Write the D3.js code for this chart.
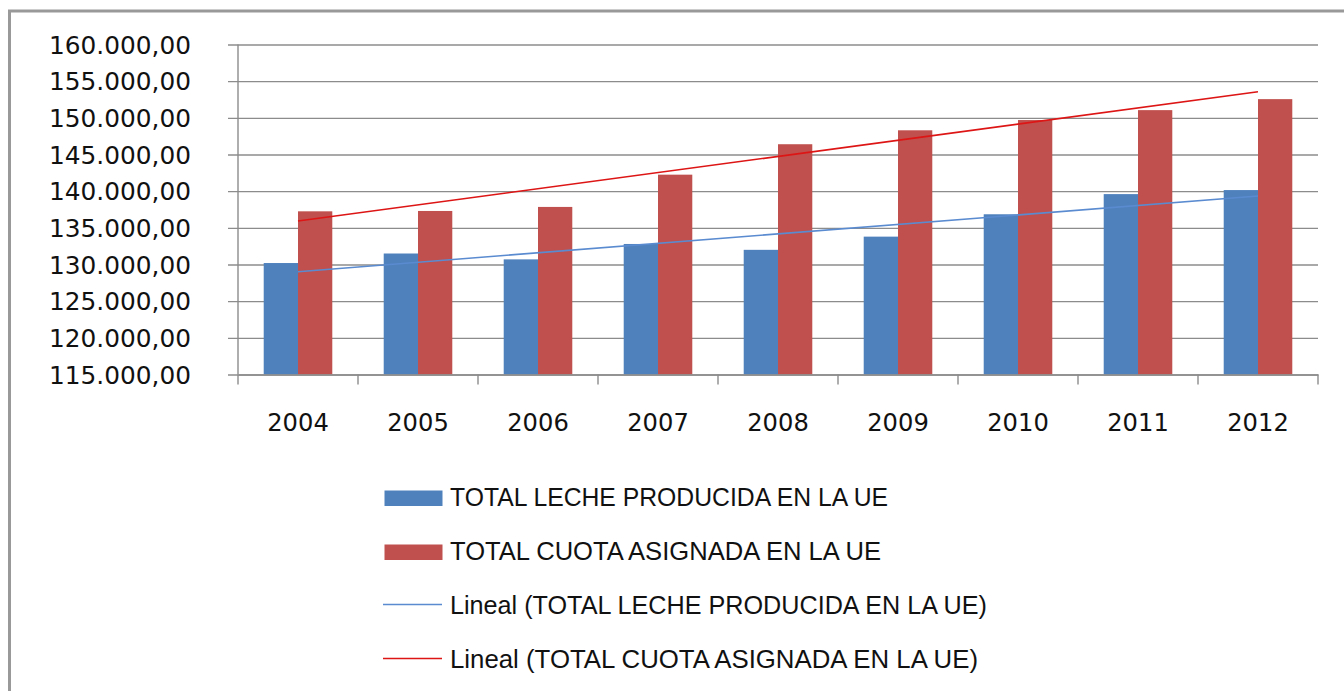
<!DOCTYPE html>
<html>
<head>
<meta charset="utf-8">
<script src="https://cdn.jsdelivr.net/npm/d3@7"></script>
<style>
    body { margin: 0; background: #fff; }
    svg { display: block; }
</style>
</head>
<body>
<div id="chartContainer"></div>
<script>
const years = ['2004', '2005', '2006', '2007', '2008', '2009', '2010', '2011', '2012'];
const lecheProducida = [130200, 131500, 130700, 132800, 132000, 133800, 136850, 139600, 140150];
const cuotaAsignada = [137250, 137300, 137850, 142250, 146400, 148300, 149700, 151050, 152550];
const seriesNames = ['TOTAL LECHE PRODUCIDA EN LA UE', 'TOTAL CUOTA ASIGNADA EN LA UE'];
const yTicks = [115000, 120000, 125000, 130000, 135000, 140000, 145000, 150000, 155000, 160000];

const width = 1344;
const height = 691;
const plot = { 'left': 238, 'right': 1318, 'top': 44.5, 'bottom': 374.5 };

const barColors = ['#4f81bd', '#c0504d'];
const trendColors = ['#5a8bd0', '#dd1515'];

const locale = d3.formatLocale({ decimal: ',', thousands: '.', grouping: [3], currency: ['', '€'] });
const fmt = locale.format(',.2f');

const svg = d3.select('#chartContainer')
    .append('svg')
    .attr('width', width)
    .attr('height', height);

// outer chart frame (runs off the right and bottom edge)
svg.append('rect')
    .attr('x', 9.5)
    .attr('y', 11)
    .attr('width', 1400)
    .attr('height', 800)
    .attr('fill', 'none')
    .attr('stroke', '#999')
    .attr('stroke-width', 3);

const y = d3.scaleLinear()
    .domain([115000, 160000])
    .range([plot.bottom, plot.top]);

const x = d3.scaleBand()
    .domain(years)
    .range([plot.left, plot.right])
    .paddingInner(0)
    .paddingOuter(0);

const xInner = d3.scaleBand()
    .domain([0, 1])
    .range([0, x.bandwidth()])
    .paddingInner(0)
    .paddingOuter(0.75);

// y axis with gridlines
const gYAxis = svg.append('g')
    .attr('transform', `translate(${plot.left - 10}, 0)`);

gYAxis.call(d3.axisLeft(y)
    .tickValues(yTicks)
    .tickFormat(fmt)
    .tickSize(-(plot.right - plot.left + 10))
    .tickPadding(37));

gYAxis.select('.domain').remove();
gYAxis.selectAll('line')
    .attr('stroke', '#8c8c8c')
    .attr('stroke-width', 1.4);
gYAxis.selectAll('text')
    .attr('dy', '0.35em')
    .style('font-family', '"DejaVu Sans", sans-serif')
    .style('font-size', '24.8px')
    .attr('fill', '#111');

// vertical axis line
svg.append('line')
    .attr('x1', plot.left)
    .attr('x2', plot.left)
    .attr('y1', plot.top)
    .attr('y2', plot.bottom)
    .attr('stroke', '#8c8c8c')
    .attr('stroke-width', 1.4);

// bars
const groups = svg.selectAll('.year')
    .data(years)
    .enter()
    .append('g')
    .attr('class', 'year')
    .attr('transform', d => `translate(${x(d)}, 0)`);

groups.selectAll('rect')
    .data((d, i) => [lecheProducida[i], cuotaAsignada[i]])
    .enter()
    .append('rect')
    .attr('x', (d, j) => xInner(j))
    .attr('width', xInner.bandwidth())
    .attr('y', d => y(d))
    .attr('height', d => plot.bottom - y(d))
    .attr('fill', (d, j) => barColors[j]);

// x axis
const gXAxis = svg.append('g')
    .attr('transform', `translate(0, ${plot.bottom})`);

gXAxis.call(d3.axisBottom(x).tickSize(0).tickPadding(39.5));
gXAxis.select('.domain')
    .attr('stroke', '#8c8c8c')
    .attr('stroke-width', 1.4);
gXAxis.selectAll('text')
    .style('font-family', '"DejaVu Sans", sans-serif')
    .style('font-size', '24.2px')
    .attr('fill', '#111');

const boundaries = years.map(d => x(d)).concat([plot.right]);
gXAxis.selectAll('.bound')
    .data(boundaries)
    .enter()
    .append('line')
    .attr('class', 'bound')
    .attr('x1', d => d)
    .attr('x2', d => d)
    .attr('y1', 0)
    .attr('y2', 10)
    .attr('stroke', '#8c8c8c')
    .attr('stroke-width', 1.4);

// linear trend lines (least squares over the bar values)
const trend = (values) => {
    const n = values.length;
    const mx = d3.mean(values, (d, i) => i);
    const my = d3.mean(values);
    const slope = d3.sum(values, (d, i) => (i - mx) * (d - my)) / d3.sum(values, (d, i) => (i - mx) * (i - mx));
    return [0, n - 1].map(i => ({ year: years[i], value: my + slope * (i - mx) }));
};

const line = d3.line()
    .x(d => x(d.year) + x.bandwidth() / 2)
    .y(d => y(d.value));

[lecheProducida, cuotaAsignada].forEach((values, j) => {
    svg.append('path')
        .datum(trend(values))
        .attr('d', line)
        .attr('fill', 'none')
        .attr('stroke', trendColors[j])
        .attr('stroke-width', 1.6);
});

// legend (text widths taken from the original, which used a narrower font)
const legendItems = [
    { label: seriesNames[0], type: 'bar', color: barColors[0], textWidth: 438 },
    { label: seriesNames[1], type: 'bar', color: barColors[1], textWidth: 431 },
    { label: 'Lineal (' + seriesNames[0] + ')', type: 'line', color: trendColors[0], textWidth: 537 },
    { label: 'Lineal (' + seriesNames[1] + ')', type: 'line', color: trendColors[1], textWidth: 528 }
];

const legend = svg.append('g');
const rows = legend.selectAll('.legend-row')
    .data(legendItems)
    .enter()
    .append('g')
    .attr('class', 'legend-row')
    .attr('transform', (d, i) => `translate(0, ${506 + i * 54})`);

rows.filter(d => d.type == 'bar')
    .append('rect')
    .attr('x', 384.5)
    .attr('y', -15.5)
    .attr('width', 58)
    .attr('height', 15.5)
    .attr('fill', d => d.color);

rows.filter(d => d.type == 'line')
    .append('line')
    .attr('x1', 383)
    .attr('x2', 442)
    .attr('y1', -9.5)
    .attr('y2', -9.5)
    .attr('stroke', d => d.color)
    .attr('stroke-width', 1.6);

rows.append('text')
    .attr('x', 450)
    .attr('textLength', d => d.textWidth)
    .attr('lengthAdjust', 'spacingAndGlyphs')
    .style('font-family', '"Liberation Sans Narrow", "Liberation Sans", sans-serif')
    .style('font-size', '26px')
    .attr('fill', '#111')
    .text(d => d.label);
</script>
</body>
</html>
